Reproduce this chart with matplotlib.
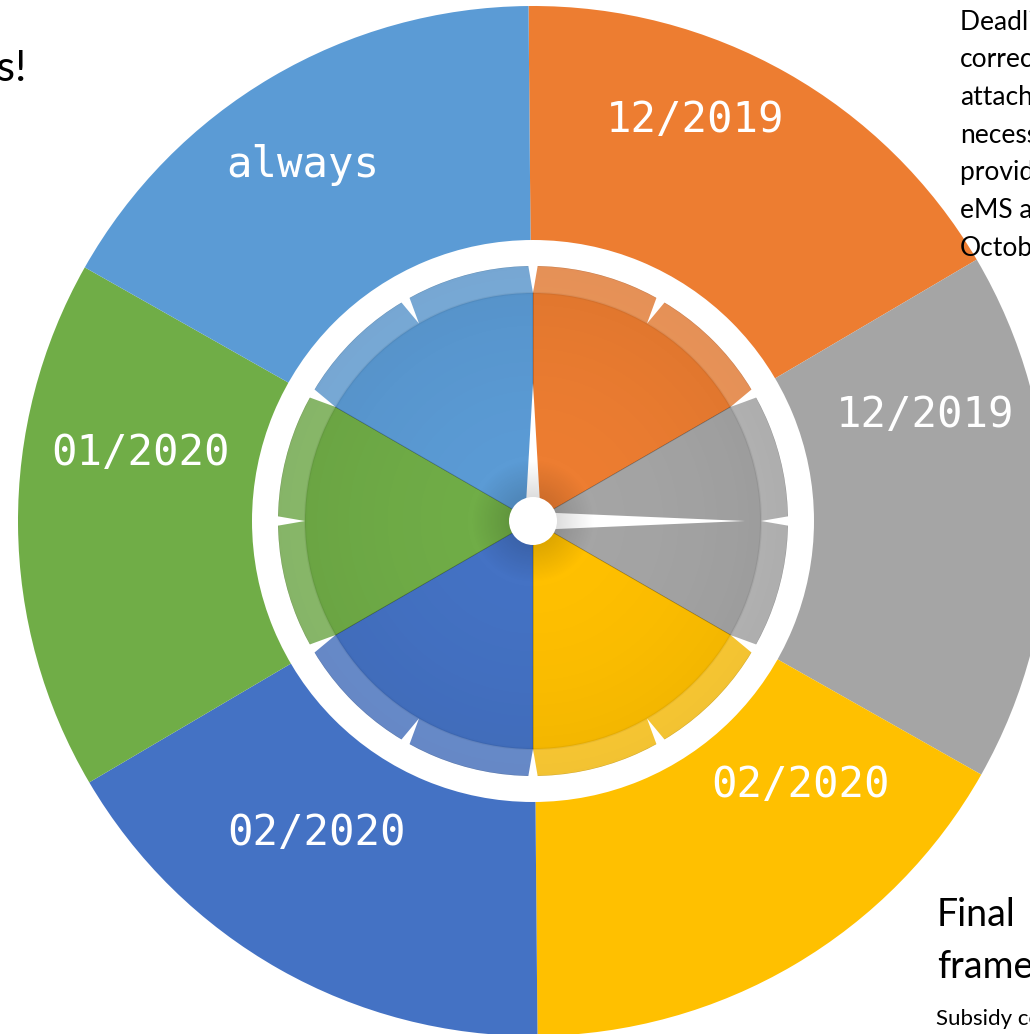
import numpy as np
import matplotlib
matplotlib.use("Agg")
import matplotlib.pyplot as plt
from matplotlib.patches import Wedge, Circle, Polygon

# segments, clockwise from 12 o'clock
labels = ["12/2019", "12/2019", "02/2020", "02/2020", "01/2020", "always"]
shares = [1, 1, 1, 1, 1, 1]
colors = ["#ED7D31", "#A5A5A5", "#FFC000", "#4472C4", "#70AD47", "#5B9BD5"]

# side notes around the clock (partly cut by the page edge)
note_top = ["Deadline for", "corrections", "attachments", "necessary", "provided in", "eMS and", "October"]
note_bottom = ["Final", "framework", "Subsidy contract"]

# 1 data unit = 1 pixel, origin at the clock centre
fig = plt.figure(figsize=(10.3, 10.34), dpi=100)
ax = fig.add_axes([0, 0, 1, 1])

R_OUT = 515
R_RING = 281
R_IN = 255
R_BAND = 228

# outer ring of segments
ax.pie(shares, colors=colors, startangle=90.5, counterclock=False,
       radius=R_OUT, wedgeprops=dict(linewidth=0))

# inner clock face
ax.pie(shares, colors=colors, startangle=90, counterclock=False,
       radius=R_IN, wedgeprops=dict(linewidth=0.6, edgecolor=(0, 0, 0, 0.2)))

# soft darkening towards the rim of the face
n = 400
yy, xx = np.mgrid[-R_IN:R_IN:n * 1j, -R_IN:R_IN:n * 1j]
rr = np.hypot(xx, yy)
shade = np.zeros((n, n, 4))
shade[..., 3] = np.clip(0.06 * (rr / R_IN) ** 2, 0, 1)
im = ax.imshow(shade, extent=(-R_IN, R_IN, -R_IN, R_IN), origin="lower", zorder=3)
im.set_clip_path(Circle((0, 0), R_IN, transform=ax.transData))

# light band with tick gaps
ax.add_patch(Wedge((0, 0), R_IN, 0, 360, width=R_IN - R_BAND,
                   facecolor="white", alpha=0.2, linewidth=0, zorder=4))
ax.add_patch(Circle((0, 0), R_BAND, fill=False, edgecolor=(0, 0, 0, 0.05),
                    linewidth=1.5, zorder=4))

# white bezel
ax.add_patch(Wedge((0, 0), R_RING, 0, 360, width=R_RING - R_IN,
                   facecolor="white", linewidth=0, zorder=5))

# tick marks every 30 degrees
for a in np.deg2rad(np.arange(0, 360, 30)):
    d = np.array([np.cos(a), np.sin(a)])
    p = np.array([-np.sin(a), np.cos(a)])
    tri = [d * (R_IN + 2) + p * 5, d * (R_IN + 2) - p * 5, d * R_BAND]
    ax.add_patch(Polygon(tri, closed=True, facecolor="white", linewidth=0, zorder=5))

# clock hands
ax.add_patch(Polygon([(-8, 0), (8, 0), (0, 138)], closed=True,
                     facecolor="white", linewidth=0, zorder=6))
ax.add_patch(Polygon([(0, -9), (0, 9), (212, 0)], closed=True,
                     facecolor="white", linewidth=0, zorder=6))

# faint shadow around the hub
n2 = 200
yy, xx = np.mgrid[-70:70:n2 * 1j, -70:70:n2 * 1j]
rr = np.hypot(xx, yy)
hub = np.zeros((n2, n2, 4))
hub[..., 3] = np.clip(0.14 * (1 - (rr - 22) / 40), 0, 0.14)
ax.imshow(hub, extent=(-70, 70, -70, 70), origin="lower", zorder=7)
ax.add_patch(Circle((0, 0), 24, facecolor="white", linewidth=0, zorder=8))

# segment labels
label_xy = [(162, 401), (392, 106), (267, -264), (-217, -312), (-393, 68), (-230, 356)]
for txt, (x, y) in zip(labels, label_xy):
    ax.text(x, y, txt, color="white", fontsize=30.5, family="DejaVu Sans Mono",
            ha="center", va="center", zorder=9)

# texts around the graphic
ax.text(-506, 452, "Milestones!", fontsize=31, family="Lato", ha="right",
        va="center", color="black")
for i, line in enumerate(note_top):
    ax.text(427, 499 - i * 37.7, line, fontsize=19, family="Lato",
            ha="left", va="center", color="black")
ax.text(404, -394, note_bottom[0], fontsize=27, family="Lato", ha="left",
        va="center", color="black")
ax.text(404, -446, note_bottom[1], fontsize=27, family="Lato", ha="left",
        va="center", color="black")
ax.text(403, -498, note_bottom[2], fontsize=16, family="Lato", ha="left",
        va="center", color="black")

ax.set_xlim(-533, 497)
ax.set_ylim(-513, 521)
ax.set_aspect("auto")
ax.axis("off")

fig.savefig("out.png", dpi=100)
